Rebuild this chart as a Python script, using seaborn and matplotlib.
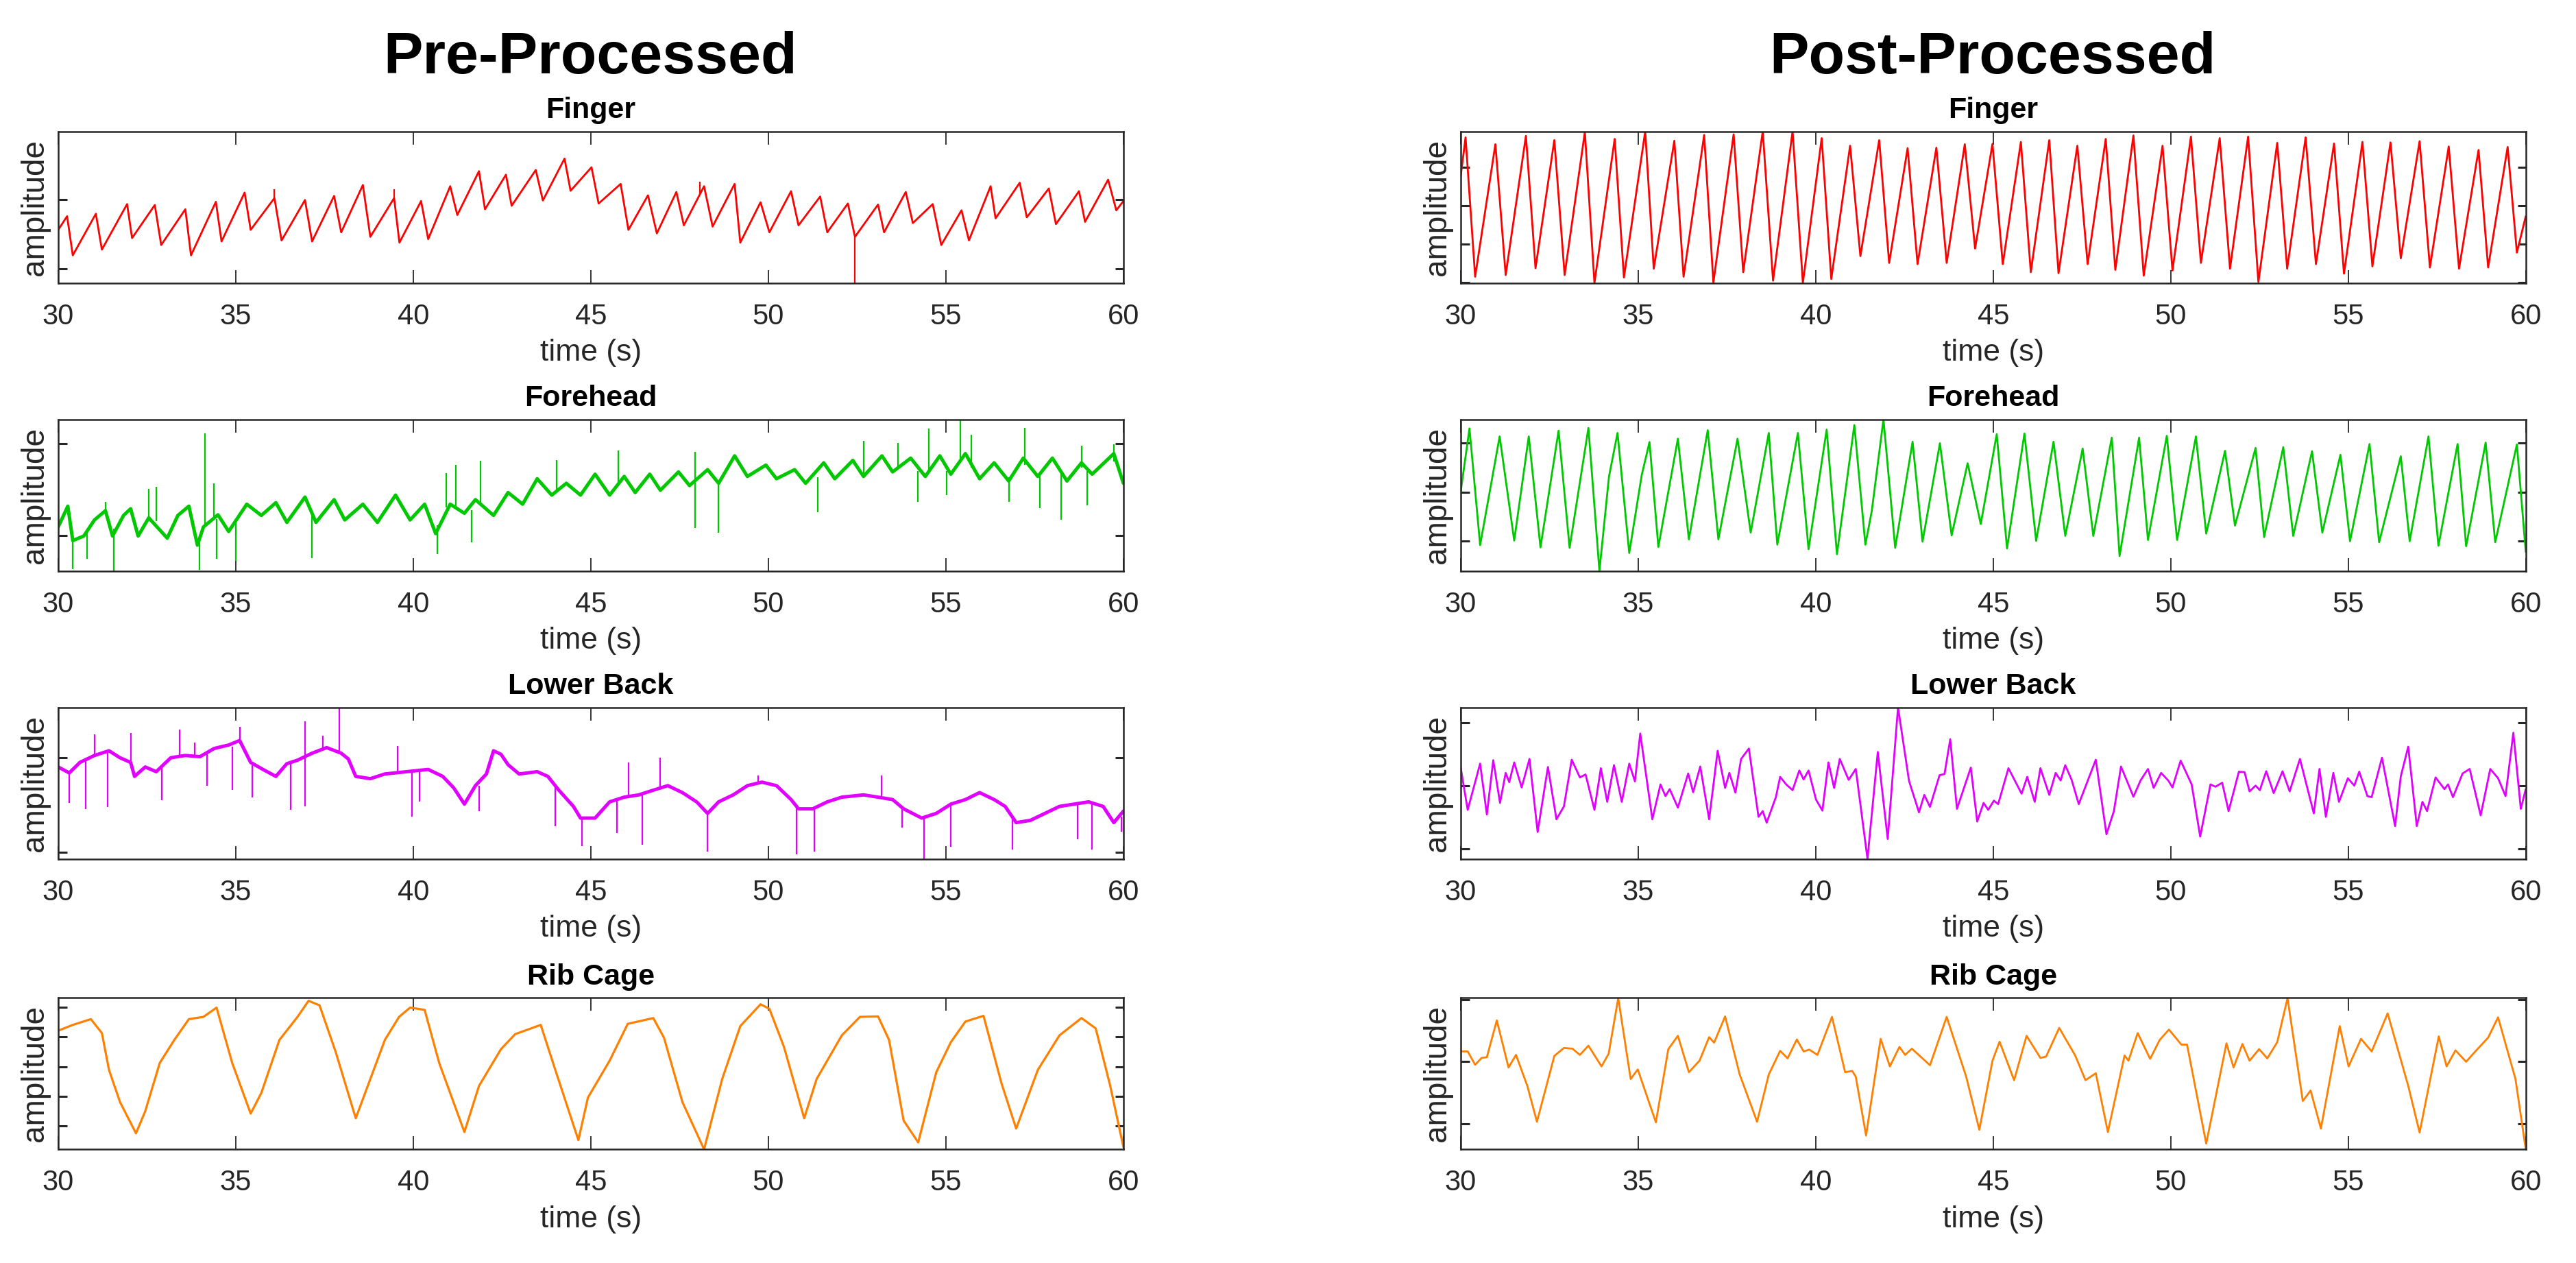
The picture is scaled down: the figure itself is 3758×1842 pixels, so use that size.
import numpy as np
import pandas as pd
import seaborn as sns
import matplotlib
matplotlib.use("Agg")
import matplotlib.pyplot as plt

# values: (time in s, amplitude in % of the axis range)
finger_pre = [
    (30.00, 35), (30.25, 44), (30.41, 18.2), (31.06, 45.6), (31.23, 22), (31.94, 52),
    (32.08, 29.6), (32.72, 51.4), (32.90, 25), (33.58, 48.6), (33.74, 18.2), (34.44, 53.5),
    (34.60, 27.4), (35.25, 59.6), (35.42, 35), (36.09, 56), (36.29, 28), (36.95, 54.7),
    (37.15, 27.4), (37.77, 57.4), (37.97, 33.4), (38.58, 64.6), (38.79, 30.4), (39.46, 56),
    (39.61, 26.6), (40.22, 54), (40.42, 28.9), (41.04, 63.8), (41.24, 44.8), (41.85, 73.7),
    (42.02, 48.6), (42.61, 71.4), (42.77, 50.9), (43.45, 74.5), (43.65, 54.4), (44.26, 82),
    (44.43, 60.8), (45.02, 76.3), (45.22, 52.4), (45.84, 65.3), (46.06, 35), (46.61, 57.8),
    (46.86, 32.7), (47.41, 60), (47.62, 38), (48.19, 63.8), (48.43, 37.2), (49.05, 65.3),
    (49.21, 26.6), (49.78, 53.2), (50.03, 33.4), (50.64, 60.5), (50.85, 38), (51.46, 57),
    (51.66, 33.4), (52.24, 52.4), (52.44, 30.4), (53.09, 51.7), (53.26, 33.4), (53.87, 60),
    (54.07, 39.5), (54.63, 52), (54.87, 25), (55.44, 47.9), (55.65, 28.1), (56.26, 63.8),
    (56.40, 42.6), (57.08, 66.1), (57.28, 43.3), (57.90, 62.3), (58.10, 38.8), (58.75, 60.5),
    (58.92, 40.3), (59.57, 68.1), (59.80, 47.9), (60.00, 54),
]
# (time, base, tip) of isolated spikes
finger_pre_spikes = [(36.09, 56, 62), (39.46, 56, 62), (48.07, 58, 67), (52.44, 30, 0)]

finger_post = [
    (30.00, 70), (30.14, 96), (30.41, 4.1), (30.98, 91.5), (31.27, 5.2), (31.84, 97),
    (32.11, 9.7), (32.64, 94.2), (32.93, 5.2), (33.50, 99.5), (33.77, 0), (34.34, 95),
    (34.60, 3.6), (35.20, 100), (35.44, 9.4), (36.02, 93.8), (36.28, 4.1), (36.86, 97.6),
    (37.12, 0.3), (37.69, 98), (37.96, 7.1), (38.51, 100), (38.80, 1.5), (39.35, 100),
    (39.64, 0), (40.17, 95.5), (40.44, 2.6), (40.97, 90.5), (41.26, 17.7), (41.79, 94.2),
    (42.07, 13.2), (42.59, 88.9), (42.87, 12.4), (43.40, 89.2), (43.69, 13.2), (44.20, 91.5),
    (44.49, 22.7), (44.98, 91.7), (45.27, 12.4), (45.78, 93), (46.06, 7.1), (46.58, 94.2),
    (46.84, 6.4), (47.37, 90.5), (47.66, 12.4), (48.17, 95), (48.44, 8.6), (48.95, 97.3),
    (49.24, 4.8), (49.77, 90.5), (50.05, 8.2), (50.57, 96.5), (50.85, 13.2), (51.38, 95.5),
    (51.67, 9.4), (52.18, 96.5), (52.47, 0.6), (53.00, 92.4), (53.28, 9.4), (53.80, 96),
    (54.09, 12.4), (54.60, 92), (54.88, 6.1), (55.40, 93), (55.68, 10.9), (56.19, 92.7),
    (56.48, 16.2), (57.01, 93.5), (57.30, 10.2), (57.83, 90), (58.12, 9.4), (58.67, 87.7),
    (58.94, 10.2), (59.49, 89.7), (59.75, 20), (60.00, 44),
]

forehead_pre = [
    (30.00, 29), (30.27, 42.7), (30.41, 20), (30.72, 23), (31.02, 33.6), (31.33, 39.7),
    (31.53, 23), (31.84, 36.6), (32.04, 41), (32.25, 23), (32.55, 35), (33.07, 21.6),
    (33.37, 36.6), (33.68, 42.7), (33.92, 17), (34.09, 29), (34.50, 37), (34.80, 26),
    (35.31, 44), (35.72, 36.6), (36.13, 45), (36.44, 32), (36.95, 48.7), (37.26, 32),
    (37.77, 47), (38.07, 33.6), (38.58, 44), (38.99, 32), (39.50, 50), (39.91, 33.6),
    (40.32, 44), (40.63, 24.6), (41.04, 44), (41.44, 38), (41.75, 47), (42.26, 36.6),
    (42.67, 51.7), (43.08, 44), (43.49, 60.8), (43.90, 50), (44.31, 57.8), (44.71, 50),
    (45.12, 63.8), (45.53, 50), (45.94, 62.3), (46.25, 51.7), (46.66, 63.8), (46.96, 53.2),
    (47.47, 65.3), (47.78, 56.3), (48.29, 66.8), (48.60, 57.8), (49.05, 75.9), (49.41, 62.3),
    (49.93, 69.8), (50.23, 60.8), (50.74, 66.8), (51.05, 57.8), (51.56, 71.3), (51.87, 60.8),
    (52.38, 72.9), (52.68, 62.3), (53.20, 75.9), (53.50, 65.3), (54.01, 74.4), (54.42, 62.3),
    (54.83, 75.9), (55.14, 63.8), (55.55, 77.4), (55.95, 60.8), (56.36, 71.3), (56.77, 59.3),
    (57.18, 74.4), (57.59, 62.3), (58.00, 74.4), (58.41, 59.3), (58.82, 71.3), (59.12, 63.8),
    (59.73, 77.4), (60.00, 57.8),
]
forehead_pre_spikes = [
    (31.33, 38, 45.7), (32.55, 35, 54), (32.76, 33, 55.5), (34.13, 30, 90.6), (34.39, 36, 57.8),
    (40.93, 42, 64.6), (41.20, 42, 70.1), (41.89, 45, 72.5), (44.04, 52, 73.2), (45.78, 56, 79.6),
    (47.94, 60, 78.6), (52.68, 64, 85.7), (53.65, 68, 84.6), (54.52, 66, 94.1), (55.40, 72, 100),
    (55.71, 68, 89.7), (57.22, 70, 94.4), (58.82, 68, 82.7), (59.73, 72, 83.4),
    (30.41, 25, 1.2), (30.82, 28, 8), (31.57, 28, 0), (33.97, 22, 0.5), (34.46, 34, 8),
    (35.01, 32, 6.4), (37.15, 36, 8.6), (40.67, 30, 11.3), (41.65, 40, 18.9), (47.94, 58, 28.4),
    (48.60, 58, 25.3), (51.40, 62, 38.5), (54.22, 66, 45.7), (55.03, 66, 49.9), (56.77, 62, 45.4),
    (57.65, 64, 41.6), (58.24, 64, 33.6), (58.98, 66, 43.4),
]

forehead_post = [
    (30.00, 51.7), (30.25, 94), (30.55, 17), (31.10, 88.7), (31.51, 20), (31.92, 88.7),
    (32.25, 15.5), (32.76, 92.5), (33.07, 15.2), (33.60, 94.3), (33.91, 0), (34.18, 62.3),
    (34.42, 91), (34.75, 11.8), (35.10, 63), (35.32, 85), (35.57, 15.8), (36.12, 87.2),
    (36.43, 20.8), (36.96, 92.8), (37.26, 20.8), (37.80, 87.2), (38.17, 25.3), (38.68, 91),
    (38.92, 17.3), (39.50, 91), (39.80, 14.3), (40.31, 93.2), (40.60, 11), (41.09, 96.2),
    (41.40, 17.3), (41.58, 39.4), (41.91, 100), (42.24, 15.2), (42.73, 85.2), (43.01, 19.3),
    (43.50, 84.2), (43.83, 23.4), (44.28, 71), (44.65, 30.9), (45.10, 90.2), (45.39, 14.8),
    (45.88, 90.6), (46.21, 19.8), (46.70, 85.2), (47.03, 23.1), (47.52, 80.7), (47.82, 23.1),
    (48.34, 87.9), (48.56, 9.8), (49.11, 87.9), (49.36, 20.4), (49.89, 89.1), (50.18, 20.4),
    (50.71, 88.7), (51.00, 24.6), (51.53, 79.2), (51.81, 29.9), (52.39, 81.1), (52.63, 22.3),
    (53.17, 81.6), (53.45, 23.1), (53.98, 78.9), (54.27, 25.3), (54.78, 76.6), (55.05, 19.6),
    (55.60, 83.7), (55.87, 18.9), (56.48, 75.6), (56.73, 19.6), (57.26, 88.7), (57.54, 16.6),
    (58.08, 83.7), (58.32, 16.3), (58.87, 84.6), (59.14, 18.9), (59.75, 83.4), (60.00, 12.5),
]

lowback_pre = [
    (30.00, 60.6), (30.31, 56.7), (30.61, 63.6), (31.02, 68.2), (31.43, 71.3), (31.74, 66.7),
    (32.04, 63.6), (32.15, 54.4), (32.45, 60.6), (32.76, 57.5), (33.17, 66.7), (33.58, 68.2),
    (33.99, 67.4), (34.39, 72.8), (34.80, 75.1), (35.11, 78.1), (35.42, 63.6), (35.82, 58.3),
    (36.13, 54.4), (36.44, 62.8), (36.74, 65.1), (37.15, 69.7), (37.56, 73.4), (37.97, 69.7),
    (38.17, 65.9), (38.38, 54.4), (38.79, 52.9), (39.20, 56), (39.81, 57.5), (40.42, 59),
    (40.83, 54.4), (41.14, 46.8), (41.44, 36.1), (41.75, 48.3), (42.06, 56), (42.26, 71.3),
    (42.47, 69), (42.67, 62.1), (42.98, 56), (43.49, 57.5), (43.79, 54.4), (44.10, 45.3),
    (44.51, 34.6), (44.71, 26.9), (45.12, 26.9), (45.53, 37.6), (45.94, 40.7), (46.35, 42.2),
    (46.76, 45.3), (47.17, 48.3), (47.58, 43.7), (47.98, 37.6), (48.29, 30), (48.60, 37.6),
    (49.01, 42.2), (49.41, 48.3), (49.82, 50.6), (50.23, 48.3), (50.64, 39.1), (50.85, 33),
    (51.25, 33), (51.66, 37.6), (52.07, 40.7), (52.68, 42.2), (53.09, 40.7), (53.50, 39.1),
    (53.81, 33), (54.32, 26.9), (54.73, 30), (55.14, 36.1), (55.55, 39.1), (55.95, 43.7),
    (56.36, 39.1), (56.67, 34.6), (56.98, 23.9), (57.38, 25.4), (57.79, 30), (58.20, 34.6),
    (58.61, 36.1), (59.02, 37.6), (59.43, 34.6), (59.73, 23.9), (60.00, 31.5),
]
lowback_pre_spikes = [
    (31.02, 68, 82.3), (32.04, 63, 83.2), (33.41, 67, 85.3), (33.84, 67, 76.6), (35.11, 76, 87.3),
    (36.95, 68, 90.8), (37.46, 72, 81.2), (37.91, 71, 100), (39.56, 57, 74.3), (46.06, 41, 63.6),
    (46.96, 46, 66.7), (49.72, 50, 55.2), (53.19, 40, 55.2),
    (30.31, 56, 36.9), (30.78, 65, 33), (31.39, 70, 34.3), (32.92, 60, 38.8), (34.19, 70, 48.3),
    (34.90, 74, 45.3), (35.46, 62, 40.7), (36.54, 63, 32.3), (36.95, 67, 34.6), (39.97, 58, 27.7),
    (40.18, 58, 37.6), (41.85, 48, 31.5), (44.00, 48, 21.6), (44.75, 27, 8.6), (45.74, 39, 17),
    (46.45, 43, 9.3), (48.29, 30, 4.7), (50.80, 35, 2.8), (51.29, 33, 4.7), (53.77, 34, 20.8),
    (54.38, 27, 0), (55.14, 36, 7.8), (56.87, 28, 6.3), (58.71, 36, 13.1), (59.12, 37, 6.3),
    (59.94, 28, 17.7),
]

lowback_post = [
    (30.00, 60.6), (30.20, 32.3), (30.55, 62.8), (30.74, 29.2), (30.92, 65.1), (31.11, 36.9),
    (31.27, 56.7), (31.37, 50.6), (31.51, 63.6), (31.72, 47.1), (31.94, 65.9), (32.17, 17.7),
    (32.46, 60.6), (32.70, 26.1), (32.91, 34.6), (33.13, 65.4), (33.36, 53.7), (33.52, 55.7),
    (33.77, 32.3), (33.95, 59.8), (34.13, 37.6), (34.32, 61.8), (34.54, 37.6), (34.75, 62.8),
    (34.91, 51.1), (35.06, 82.7), (35.40, 26.1), (35.63, 49.1), (35.77, 41.4), (35.89, 46),
    (36.12, 33.8), (36.41, 56.3), (36.55, 44), (36.75, 60.9), (37.00, 26.1), (37.24, 71.3),
    (37.45, 46.8), (37.57, 56.7), (37.74, 43.7), (37.90, 65.9), (38.12, 72.8), (38.39, 27.7),
    (38.51, 31.5), (38.62, 23.9), (38.88, 40.7), (39.00, 54.1), (39.17, 49.1), (39.35, 45.3),
    (39.54, 58.3), (39.66, 52.4), (39.80, 58.3), (40.01, 39.1), (40.19, 31.8), (40.36, 63.6),
    (40.52, 46.8), (40.68, 65.9), (40.93, 52.1), (41.13, 59.3), (41.46, 0), (41.75, 70.5),
    (42.03, 13.1), (42.32, 100), (42.63, 51.4), (42.91, 30.7), (43.06, 42.2), (43.22, 34.3),
    (43.49, 55.2), (43.63, 56), (43.79, 78.9), (43.98, 33), (44.37, 60.2), (44.55, 24.6),
    (44.73, 36.9), (44.86, 32.3), (45.02, 38.4), (45.14, 36.1), (45.43, 59.8), (45.80, 43),
    (45.96, 54.1), (46.17, 37.6), (46.33, 59.8), (46.58, 42.2), (46.76, 56.7), (46.90, 51.7),
    (47.03, 61.8), (47.21, 52.1), (47.41, 36.1), (47.89, 65.4), (48.19, 16.2), (48.40, 31.5),
    (48.60, 60.9), (48.95, 41), (49.15, 51.7), (49.36, 59.3), (49.52, 46.8), (49.73, 56.7),
    (49.93, 51.7), (50.05, 47.1), (50.28, 64.8), (50.59, 49.1), (50.83, 14.7), (51.12, 49.1),
    (51.26, 47.6), (51.45, 50.2), (51.63, 31.5), (51.92, 57.5), (52.08, 57.2), (52.22, 44.5),
    (52.39, 48.3), (52.51, 45.3), (52.69, 57.8), (52.90, 43.4), (53.15, 57.8), (53.35, 44.5),
    (53.64, 65.9), (54.03, 30), (54.19, 59.3), (54.37, 27.7), (54.58, 56.7), (54.74, 37.6),
    (54.99, 53.2), (55.17, 48.3), (55.31, 57.5), (55.54, 41.4), (55.66, 40.7), (55.95, 66.7),
    (56.32, 21.6), (56.48, 54.4), (56.69, 74), (56.93, 21.6), (57.09, 37.6), (57.22, 31.5),
    (57.46, 53.7), (57.71, 46), (57.81, 49.1), (57.95, 40.7), (58.22, 56.3), (58.42, 59.3),
    (58.73, 28.7), (59.00, 59.3), (59.22, 53.2), (59.43, 41.4), (59.65, 83.2), (59.86, 33),
    (60.00, 46),
]

ribcage_pre = [
    (30.00, 78.3), (30.41, 82.1), (30.92, 85.9), (31.23, 76.7), (31.43, 52.4), (31.74, 31.2),
    (32.19, 10.6), (32.45, 25.1), (32.86, 57), (33.27, 72.2), (33.68, 85.9), (34.09, 87.4),
    (34.46, 93.5), (34.90, 57), (35.42, 23.6), (35.72, 37.2), (36.23, 72.2), (36.74, 87.4),
    (37.05, 98), (37.36, 95), (37.81, 64.6), (38.38, 20.5), (38.79, 46.4), (39.20, 72.2),
    (39.60, 87.4), (39.91, 93.5), (40.32, 92), (40.73, 57), (41.44, 11.4), (41.85, 41.8),
    (42.47, 66.1), (42.87, 76), (43.59, 82.1), (44.00, 52.4), (44.65, 6.1), (44.92, 34.2),
    (45.53, 58.5), (46.04, 82.8), (46.76, 86.6), (47.06, 73.7), (47.58, 31.2), (48.19, 0),
    (48.70, 46.4), (49.21, 81.3), (49.78, 95.7), (50.03, 92.7), (50.44, 67.6), (51.01, 20.5),
    (51.36, 46.4), (52.07, 75.2), (52.58, 87.4), (53.09, 87.7), (53.40, 72.2), (53.81, 19),
    (54.22, 4.6), (54.73, 50.9), (55.14, 70.7), (55.55, 84.3), (56.06, 88.1), (56.57, 43.3),
    (56.98, 13.7), (57.59, 52.4), (58.20, 75.2), (58.82, 86.6), (59.22, 79.8), (59.63, 41.8),
    (60.00, 1.5),
]

ribcage_post = [
    (30.00, 64.6), (30.20, 64.6), (30.41, 55.8), (30.59, 60.3), (30.74, 60.8), (31.02, 85.1),
    (31.35, 54), (31.56, 62.3), (31.88, 41.8), (32.15, 18.2), (32.64, 61.6), (32.91, 66.9),
    (33.15, 66.4), (33.36, 62.3), (33.60, 68.4), (33.97, 54.7), (34.17, 63.1), (34.44, 99.8),
    (34.79, 46.4), (34.99, 52.7), (35.50, 17.8), (35.85, 66.1), (36.12, 74.9), (36.43, 50.9),
    (36.73, 58.5), (37.00, 74), (37.14, 70.4), (37.45, 87.7), (37.86, 49.4), (38.35, 18.2),
    (38.68, 49.4), (39.00, 65), (39.21, 60), (39.47, 72.5), (39.66, 64.6), (39.82, 65.8),
    (40.05, 62.3), (40.46, 87.4), (40.83, 50.9), (41.03, 51.7), (41.13, 47.9), (41.42, 9.1),
    (41.83, 72.9), (42.09, 54.7), (42.36, 67.6), (42.52, 62.3), (42.71, 66.4), (43.22, 55.5),
    (43.69, 87.4), (44.24, 47.9), (44.61, 12.9), (44.98, 58.5), (45.18, 71), (45.59, 45.6),
    (45.94, 74.9), (46.33, 60.3), (46.49, 61.2), (46.86, 80.1), (47.31, 61.9), (47.60, 45.6),
    (47.89, 50.2), (48.23, 11.4), (48.70, 61.9), (48.81, 58.5), (49.07, 76.7), (49.42, 59.7),
    (49.69, 72.2), (49.95, 79), (50.30, 69.1), (50.46, 69.1), (51.00, 3.8), (51.57, 69.9),
    (51.77, 54), (52.02, 69.5), (52.22, 58.5), (52.49, 66.1), (52.72, 60), (53.00, 70.7),
    (53.29, 99.8), (53.72, 31.9), (53.94, 38.8), (54.23, 13.7), (54.76, 81.3), (55.01, 54.7),
    (55.36, 72.9), (55.66, 64.6), (56.11, 89.7), (56.69, 41.8), (57.01, 11.1), (57.55, 74.5),
    (57.77, 54.7), (58.02, 65.3), (58.32, 57.8), (58.59, 64.9), (58.94, 73.7), (59.22, 87.1),
    (59.71, 46.4), (60.00, 0),
]

names = ["Finger", "Forehead", "Lower Back", "Rib Cage"]
colors = ["#ff0000", "#00c800", "#e100ff", "#ff8000"]
pre = [finger_pre, forehead_pre, lowback_pre, ribcage_pre]
pre_spikes = [finger_pre_spikes, forehead_pre_spikes, lowback_pre_spikes, []]
post = [finger_post, forehead_post, lowback_post, ribcage_post]

# where the unlabeled amplitude ticks sit in each panel
pre_yticks = [[9.4, 55], [23.4, 83.9], [4.3, 66.7], [15.7, 35.1, 54.6, 74.2, 93.8]]
post_yticks = [[0.3, 25.8, 51.1, 76.4], [19.5, 52, 84.6], [6.7, 48.3, 89.9], [16.9, 57.8, 98.8]]
# the raw traces are noisy, so draw them as a thicker band
pre_widths = [2.0, 3.6, 3.6, 2.3]

sns.set_style("white")
plt.rcParams["font.family"] = ["Liberation Sans", "DejaVu Sans"]
ink = "#262626"

fig = plt.figure(figsize=(37.58, 18.42), dpi=100)
bottoms = [0.776, 0.548, 0.320, 0.090]
lefts = [0.0226, 0.567]


def style_axis(ax, name, yticks):
    ax.set_xlim(30, 60)
    ax.set_ylim(0, 100)
    ax.set_xticks(range(30, 61, 5))
    ax.set_yticks(yticks)
    ax.set_yticklabels([])
    ax.tick_params(axis="x", direction="in", top=True, bottom=True, length=14,
                   width=1.3, pad=21, labelsize=30, colors=ink)
    ax.tick_params(axis="y", direction="in", left=True, right=True, length=9,
                   width=2.2, colors=ink)
    for s in ax.spines.values():
        s.set_color(ink)
        s.set_linewidth(1.8)
    ax.set_xlabel("time (s)", fontsize=32, labelpad=9, color=ink)
    ax.set_ylabel("amplitude", fontsize=33, labelpad=5, color=ink)
    ax.set_title(name, fontsize=31, fontweight="bold", pad=14, color="black")


for i, name in enumerate(names):
    for j, (sig, yt) in enumerate([(pre[i], pre_yticks[i]), (post[i], post_yticks[i])]):
        ax = fig.add_axes([lefts[j], bottoms[i], 0.4135, 0.12])
        df = pd.DataFrame(sig, columns=["time", "amplitude"])
        lw = pre_widths[i] if j == 0 else 2.0
        sns.lineplot(data=df, x="time", y="amplitude", ax=ax, color=colors[i],
                     linewidth=lw, estimator=None, sort=False,
                     solid_joinstyle="round")
        if j == 0 and pre_spikes[i]:
            sp = np.array(pre_spikes[i])
            ax.vlines(sp[:, 0], sp[:, 1], sp[:, 2], color=colors[i], linewidth=1.6)
        style_axis(ax, name, yt)

fig.text(0.229, 0.9419, "Pre-Processed", ha="center", va="baseline",
         fontsize=62, fontweight="bold", color="black")
fig.text(0.7735, 0.9419, "Post-Processed", ha="center", va="baseline",
         fontsize=62, fontweight="bold", color="black")

fig.savefig("out.png", dpi=100, facecolor="white")
